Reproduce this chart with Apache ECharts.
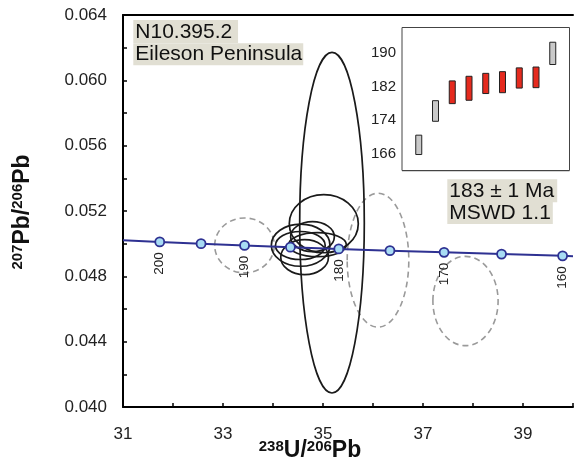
<!DOCTYPE html>
<html><head><meta charset="utf-8">
<script src="https://cdn.jsdelivr.net/npm/echarts@6/dist/echarts.min.js"></script>
<style>html,body{margin:0;padding:0;background:#fff}#c{width:576px;height:463px}</style>
</head><body><div id="c"></div>
<script>
const FONT = '"Liberation Sans", Arial, Helvetica, sans-serif';

// Concordia reference points (age in Ma, 238U/206Pb, 207Pb/206Pb)
const concordiaAges = [200, 195, 190, 185, 180, 175, 170, 165, 160];
const concordiaX = [31.735, 32.561, 33.431, 34.348, 35.316, 36.339, 37.422, 38.571, 39.792];
const concordiaY = [0.050108, 0.050000, 0.049893, 0.049786, 0.049679, 0.049573, 0.049467, 0.049361, 0.049255];
const concordiaEndX = [31, 40];
const concordiaEndY = [0.050204, 0.049237];
const labeledAges = [200, 190, 180, 170, 160];

// Analyses used in the mean (solid ellipses): centre x, centre y, half-width x, half-height y
const usedX  = [35.18, 35.016, 34.553, 34.547, 34.632, 34.89, 34.79];
const usedY  = [0.051284, 0.051223, 0.049906, 0.049888, 0.049172, 0.049937, 0.050427];
const usedRx = [0.646, 0.69, 0.586, 0.497, 0.477, 0.577, 0.437];
const usedRy = [0.010427, 0.00178, 0.00129, 0.000857, 0.00107, 0.000735, 0.000918];

// Rejected analyses (dashed ellipses)
const rejX  = [33.43, 36.10, 37.85];
const rejY  = [0.049894, 0.048988, 0.04649];
const rejRx = [0.596, 0.616, 0.652];
const rejRy = [0.00168, 0.0041, 0.002735];

// Inset: weighted mean age bars (Ma)
const barLow  = [165.8, 173.7, 177.9, 178.7, 180.3, 180.5, 181.6, 181.7, 187.2];
const barHigh = [170.4, 178.6, 183.3, 184.4, 185.1, 185.5, 186.4, 186.6, 192.5];
const barUsed = [false, false, true, true, true, true, true, true, false];
const insetLabels = [166, 174, 182, 190];

const xTickLabels = [31, 33, 35, 37, 39];
const yTickLabels = [0.040, 0.044, 0.048, 0.052, 0.056, 0.060, 0.064];

function ellipseSeries(xs, ys, rxs, rys, style, z) {
  return {
    type: 'custom', xAxisIndex: 0, yAxisIndex: 0, z: z, silent: true,
    data: xs.map((x, i) => [x, ys[i], rxs[i], rys[i]]),
    renderItem: function (params, api) {
      const c = api.coord([api.value(0), api.value(1)]);
      const s = api.size([api.value(2), api.value(3)]);
      return { type: 'ellipse', shape: { cx: c[0], cy: c[1], rx: s[0], ry: s[1] },
               style: Object.assign({ fill: 'none' }, style) };
    }
  };
}

const chart = echarts.init(document.getElementById('c'), null, { renderer: 'canvas' });
const option = {
  animation: false,
  backgroundColor: '#fff',
  textStyle: { fontFamily: FONT },
  grid: [
    { left: 123, top: 15, right: 0, bottom: 56 },
    { left: 402, top: 27.5, width: 167.5, height: 143, show: true, borderColor: '#444', borderWidth: 1, backgroundColor: '#fff', z: 5 }
  ],
  xAxis: [
    { type: 'value', gridIndex: 0, min: 31, max: 40, interval: 1,
      axisLine: { lineStyle: { color: '#000', width: 2 } },
      axisTick: { inside: true, length: 4, lineStyle: { color: '#000', width: 1.5 } },
      axisLabel: { fontSize: 17, color: '#222', margin: 19, fontFamily: FONT,
        formatter: v => xTickLabels.indexOf(Math.round(v)) >= 0 && Math.abs(v - Math.round(v)) < 1e-6 ? String(Math.round(v)) : '' },
      splitLine: { show: false } },
    { type: 'value', gridIndex: 0, position: 'top', min: 31, max: 40,
      axisLine: { show: true, onZero: false, lineStyle: { color: '#000', width: 2 } },
      axisTick: { show: false }, axisLabel: { show: false }, splitLine: { show: false } },
    { type: 'value', gridIndex: 1, min: 0, max: 10, show: false }
  ],
  yAxis: [
    { type: 'value', gridIndex: 0, min: 0.040, max: 0.064, interval: 0.002,
      axisLine: { show: true, lineStyle: { color: '#000', width: 2 } },
      axisTick: { show: true, inside: true, length: 4, lineStyle: { color: '#000', width: 1.5 } },
      axisLabel: { fontSize: 17, color: '#222', margin: 16, fontFamily: FONT,
        formatter: v => yTickLabels.some(t => Math.abs(t - v) < 1e-7) ? v.toFixed(3) : '' },
      splitLine: { show: false } },
    { type: 'value', gridIndex: 1, min: 162, max: 196, interval: 4,
      axisLine: { show: false },
      axisTick: { show: true, inside: true, length: 3, lineStyle: { color: '#555', width: 1 } },
      minorTick: { show: true, splitNumber: 2, length: 3, lineStyle: { color: '#555', width: 1 } },
      axisLabel: { fontSize: 15, color: '#222', margin: 6, fontFamily: FONT,
        formatter: v => insetLabels.indexOf(Math.round(v)) >= 0 ? String(Math.round(v)) : '' },
      splitLine: { show: true, lineStyle: { color: '#c4c4c4', width: 1.5 } } }
  ],
  series: [
    ellipseSeries(rejX, rejY, rejRx, rejRy, { stroke: '#9a9a9a', lineWidth: 1.6, lineDash: [6, 4] }, 2),
    ellipseSeries(usedX, usedY, usedRx, usedRy, { stroke: '#1a1a1a', lineWidth: 1.7 }, 3),
    { type: 'line', xAxisIndex: 0, yAxisIndex: 0, z: 4, silent: true, showSymbol: false, symbol: 'none',
      data: [[concordiaEndX[0], concordiaEndY[0]]].concat(concordiaX.map((x, i) => [x, concordiaY[i]])).concat([[concordiaEndX[1], concordiaEndY[1]]]),
      lineStyle: { color: '#2e3192', width: 2 } },
    { type: 'scatter', xAxisIndex: 0, yAxisIndex: 0, z: 5, silent: true,
      data: concordiaX.map((x, i) => ({ value: [x, concordiaY[i]],
        label: { show: labeledAges.indexOf(concordiaAges[i]) >= 0 } })),
      symbol: 'circle', symbolSize: 9,
      itemStyle: { color: '#a8dcf4', borderColor: '#2e3192', borderWidth: 1.8, opacity: 1 },
      label: { position: 'bottom', distance: 5, rotate: 90, align: 'right', verticalAlign: 'middle',
        fontSize: 13.5, color: '#222', fontFamily: FONT,
        formatter: p => String(concordiaAges[p.dataIndex]) } },
    { type: 'custom', xAxisIndex: 2, yAxisIndex: 1, z: 6, silent: true,
      data: barLow.map((lo, i) => [i + 1, lo, barHigh[i], barUsed[i] ? 1 : 0]),
      renderItem: function (params, api) {
        const top = api.coord([api.value(0), api.value(2)]);
        const bot = api.coord([api.value(0), api.value(1)]);
        return { type: 'rect', shape: { x: top[0] - 3, y: top[1], width: 6, height: bot[1] - top[1] },
          style: { fill: api.value(3) ? '#e52a1e' : '#c9c9c9', stroke: '#222', lineWidth: 1 } };
      } }
  ],
  graphic: [
    { type: 'text', x: 133.3, y: 20, z: 10, style: { text: 'N10.395.2 ', font: '21px ' + FONT, fill: '#111',
        backgroundColor: '#e1dfd3', padding: [1, 0, 0, 2], lineHeight: 22, verticalAlign: 'top' } },
    { type: 'text', x: 133.3, y: 43.3, z: 10, style: { text: 'Eileson Peninsula', font: '21px ' + FONT, fill: '#111',
        backgroundColor: '#e1dfd3', padding: [0, 1, 0, 2], lineHeight: 22, verticalAlign: 'top' } },
    { type: 'text', x: 447.3, y: 179.3, z: 10, style: { text: '183 \u00b1 1 Ma', font: '21px ' + FONT, fill: '#111',
        backgroundColor: '#e1dfd3', padding: [1, 3, 0, 2], lineHeight: 22, verticalAlign: 'top' } },
    { type: 'text', x: 447.3, y: 202, z: 10, style: { text: 'MSWD 1.1', font: '21px ' + FONT, fill: '#111',
        backgroundColor: '#e1dfd3', padding: [0, 2, 0, 2], lineHeight: 22, verticalAlign: 'top' } },
    { type: 'text', x: 310, y: 451, z: 10, style: {
        text: '{s|238}{b|U/}{s|206}{b|Pb}', align: 'center', verticalAlign: 'middle', fill: '#111',
        rich: { b: { fontSize: 23, fontWeight: 'bold', fontFamily: FONT, lineHeight: 24, fill: '#111' },
                s: { fontSize: 15, fontWeight: 'bold', fontFamily: FONT, lineHeight: 15, verticalAlign: 'top', fill: '#111' } } } },
    { type: 'text', x: 22.5, y: 212, rotation: Math.PI / 2, z: 10, style: {
        text: '{s|207}{b|Pb/}{s|206}{b|Pb}', align: 'center', verticalAlign: 'middle', fill: '#111',
        rich: { b: { fontSize: 23, fontWeight: 'bold', fontFamily: FONT, lineHeight: 24, fill: '#111' },
                s: { fontSize: 15, fontWeight: 'bold', fontFamily: FONT, lineHeight: 15, verticalAlign: 'top', fill: '#111' } } } }
  ]
};
chart.setOption(option);
</script>
</body></html>
